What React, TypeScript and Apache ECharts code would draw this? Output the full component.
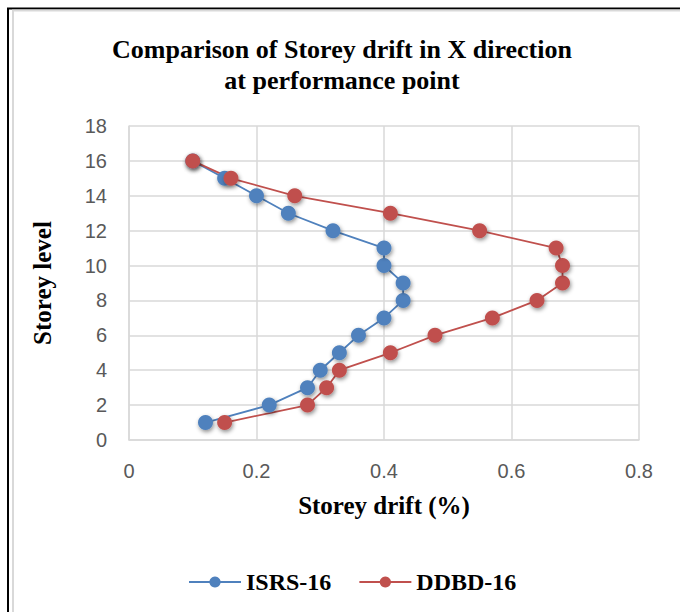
import React, { useEffect, useRef } from "react";
import * as echarts from "echarts";

const storeyLevels = [1, 2, 3, 4, 5, 6, 7, 8, 9, 10, 11, 12, 13, 14, 15, 16];
const isrsDrift = [0.12, 0.22, 0.28, 0.30, 0.33, 0.36, 0.40, 0.43, 0.43, 0.40, 0.40, 0.32, 0.25, 0.20, 0.15, 0.10];
const ddbdDrift = [0.15, 0.28, 0.31, 0.33, 0.41, 0.48, 0.57, 0.64, 0.68, 0.68, 0.67, 0.55, 0.41, 0.26, 0.16, 0.10];
const seriesNames = ["ISRS-16", "DDBD-16"];
const titleLines = ["Comparison of Storey drift in X direction", "at performance point"];
const xAxisTitle = "Storey drift (%)";
const yAxisTitle = "Storey level";

const SERIF = "'Liberation Serif', 'DejaVu Serif', serif";
const SANS = "'Liberation Sans', 'Noto Sans', sans-serif";

export default function App() {
  const ref = useRef<HTMLDivElement>(null);
  useEffect(() => {
    if (!ref.current) return;
    const chart = echarts.init(ref.current, null, { renderer: "svg" });
    const mk = (name: string, xs: number[], color: string) => ({
      name,
      type: "line",
      data: xs.map((x, i) => [x, storeyLevels[i]]),
      symbol: "circle",
      symbolSize: 15,
      lineStyle: { color, width: 1.8 },
      itemStyle: {
        color,
        shadowColor: "rgba(0,0,0,0.45)",
        shadowBlur: 4,
        shadowOffsetX: 1,
        shadowOffsetY: 2,
      },
    });
    chart.setOption({
      animation: false,
      backgroundColor: "#fff",
      title: {
        text: titleLines.join("\n"),
        left: 337,
        textAlign: "center",
        top: 29,
        textStyle: { fontFamily: SERIF, fontWeight: "bold", fontSize: 26, color: "#000", lineHeight: 31 },
      },
      grid: { left: 129, right: 41, top: 126, bottom: 172, containLabel: false },
      xAxis: {
        type: "value",
        min: 0,
        max: 0.8,
        interval: 0.2,
        name: xAxisTitle,
        nameLocation: "middle",
        nameGap: 53,
        nameTextStyle: { fontFamily: SERIF, fontWeight: "bold", fontSize: 25, color: "#000" },
        axisLine: { show: true, lineStyle: { color: "#d9d9d9", width: 1.5 } },
        axisTick: { show: false },
        axisLabel: { fontFamily: SANS, fontSize: 20, color: "#595959", margin: 21 },
        splitLine: { show: true, lineStyle: { color: "#d9d9d9", width: 1.5 } },
      },
      yAxis: {
        type: "value",
        min: 0,
        max: 18,
        interval: 2,
        name: yAxisTitle,
        nameLocation: "middle",
        nameGap: 74,
        nameTextStyle: { fontFamily: SERIF, fontWeight: "bold", fontSize: 25, color: "#000" },
        axisLine: { show: true, lineStyle: { color: "#d9d9d9", width: 1.5 } },
        axisTick: { show: false },
        axisLabel: { fontFamily: SANS, fontSize: 20, color: "#595959", margin: 22 },
        splitLine: { show: true, lineStyle: { color: "#d9d9d9", width: 1.5 } },
      },
      legend: {
        data: seriesNames,
        left: 183,
        top: 565,
        itemWidth: 52,
        itemHeight: 14,
        itemGap: 27,
        textStyle: { fontFamily: SERIF, fontWeight: "bold", fontSize: 24, color: "#000" },
      },
      series: [mk(seriesNames[0], isrsDrift, "#4F81BD"), mk(seriesNames[1], ddbdDrift, "#C0504D")],
      graphic: [
        { type: "line", shape: { x1: 8, y1: 8, x2: 8, y2: 612 }, style: { stroke: "#000", lineWidth: 2 } },
        { type: "line", shape: { x1: 7, y1: 8.5, x2: 680, y2: 8.5 }, style: { stroke: "#000", lineWidth: 2 } },
        { type: "line", shape: { x1: 13, y1: 10.5, x2: 13, y2: 612 }, style: { stroke: "#d9d9d9", lineWidth: 2 } },
        { type: "line", shape: { x1: 12, y1: 10.5, x2: 680, y2: 10.5 }, style: { stroke: "#d9d9d9", lineWidth: 2 } },
      ],
    });
    return () => chart.dispose();
  }, []);
  return <div ref={ref} style={{ position: "fixed", left: 0, top: 0, width: 680, height: 612 }} />;
}
